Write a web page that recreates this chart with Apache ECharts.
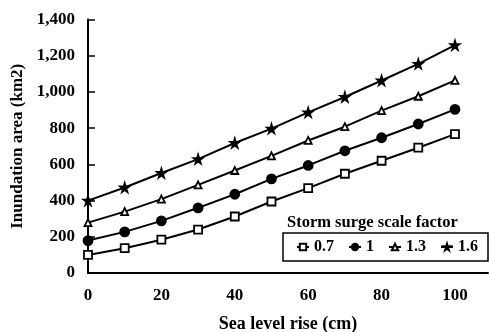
<!DOCTYPE html>
<html><head><meta charset="utf-8">
<script src="https://cdn.jsdelivr.net/npm/echarts@6/dist/echarts.min.js"></script>
<style>html,body{margin:0;padding:0;background:#fff}#c{width:489px;height:332px}</style>
</head><body><div id="c"></div>
<script>
const seaLevel = [0,10,20,30,40,50,60,70,80,90,100];
const seriesNames = ['0.7','1','1.3','1.6'];
const s07 = [100,137,184,240,312,395,469,548,620,692,767];
const s10 = [179,227,288,360,435,520,594,675,747,823,904];
const s13 = [278,339,408,487,566,647,732,808,897,976,1064];
const s16 = [400,472,552,629,718,797,887,972,1063,1155,1258];
const xTicks = [0,20,40,60,80,100];
const yTicks = [0,200,400,600,800,1000,1200,1400];

const font = "'Liberation Serif','Times New Roman',serif";
const star = 'path://M50,0 L61,35 L98,35 L68,57 L79,91 L50,70 L21,91 L32,57 L2,35 L39,35 Z';
const styles = [
  {symbol:'rect', size:8, fill:'#fff'},
  {symbol:'circle', size:9, fill:'#000'},
  {symbol:'triangle', size:7, fill:'#fff'},
  {symbol:star, size:9, fill:'#000'}
];
const datas = [s07,s10,s13,s16];
const chart = echarts.init(document.getElementById('c'));
chart.setOption({
  animation:false,
  backgroundColor:'#fff',
  title:{text:'Storm surge scale factor', left:282, top:209,
    textStyle:{fontFamily:font, fontWeight:'bold', fontSize:16.5, color:'#000'}},
  legend:{left:283, top:233, width:200, itemWidth:12, itemHeight:8, itemGap:14,
    padding:[6,10,6,13], borderColor:'#000', borderWidth:1.5,
    textStyle:{fontFamily:font, fontWeight:'bold', fontSize:16, color:'#000', padding:[3,0,0,0]},
    data:seriesNames},
  grid:{left:88, right:1, top:19.5, bottom:59, outerBoundsMode:'none', containLabel:false},
  xAxis:{type:'value', min:0, max:109, interval:20,
    name:'Sea level rise (cm)', nameLocation:'middle', nameGap:42,
    nameTextStyle:{fontFamily:font, fontWeight:'bold', fontSize:18, color:'#000'},
    axisLine:{lineStyle:{color:'#000', width:2}},
    axisTick:{show:false}, splitLine:{show:false},
    axisLabel:{fontFamily:font, fontWeight:'bold', fontSize:17, color:'#000', margin:14,
      showMaxLabel:false,
      formatter:v=> xTicks.includes(v) ? String(v) : ''}},
  yAxis:{type:'value', min:0, max:1400, interval:200,
    name:'Inundation area (km2)', nameLocation:'middle', nameGap:60,
    nameTextStyle:{fontFamily:font, fontWeight:'bold', fontSize:17, color:'#000'},
    axisLine:{show:true, lineStyle:{color:'#000', width:2}},
    axisTick:{show:true, inside:true, length:7, lineStyle:{color:'#000', width:1.5}},
    splitLine:{show:false},
    axisLabel:{fontFamily:font, fontWeight:'bold', fontSize:17, color:'#000', margin:13,
      formatter:v=> yTicks.includes(v) ? v.toLocaleString('en-US') : ''}},
  series: datas.map((d,i)=>({
    name:seriesNames[i], type:'line',
    data:seaLevel.map((x,j)=>[x,d[j]]),
    symbol:styles[i].symbol, symbolSize:styles[i].size,
    showAllSymbol:true,
    lineStyle:{color:'#000', width:2},
    itemStyle:{color:styles[i].fill, borderColor:'#000', borderWidth:1.8}
  }))
});
</script></body></html>
